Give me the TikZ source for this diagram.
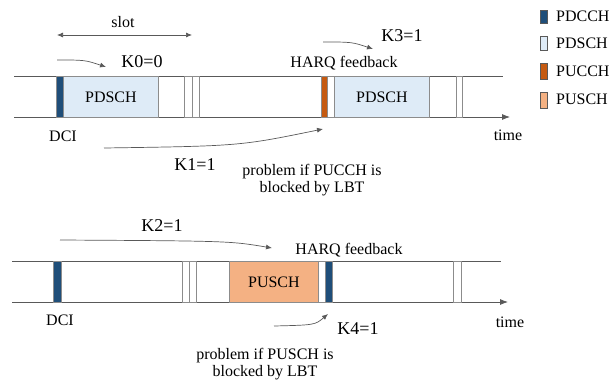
\documentclass[tikz,border=0pt]{standalone}
\usepackage{fontspec}
\setmainfont{Liberation Serif}
\usetikzlibrary{arrows.meta}
\definecolor{pdcch}{HTML}{1F4E79}
\definecolor{pdsch}{HTML}{DEEBF7}
\definecolor{pucch}{HTML}{C55A11}
\definecolor{pusch}{HTML}{F4B183}
\definecolor{ln}{HTML}{595959}
\definecolor{bd}{HTML}{8C8C8C}
\begin{document}
\begin{tikzpicture}[x=1pt,y=-1pt,
  txt/.style={font=\fontsize{16}{17}\selectfont, inner sep=0pt, text=black},
  klab/.style={font=\fontsize{18}{20}\selectfont, inner sep=0pt, text=black},
  tline/.style={draw=ln, line width=0.8pt},
  blk/.style={draw=bd, line width=0.8pt, inner sep=0pt, anchor=north west, minimum height=41pt},
  arr/.style={draw=ln, line width=0.7pt, -{Latex[length=6pt,width=5pt]}},
  leg/.style={draw=ln, line width=0.6pt, inner sep=0pt, minimum width=7pt, anchor=north west},
]
\useasboundingbox (0,0) rectangle (616,386);

% ---------- top panel ----------
\coordinate (aT1) at (14,76);  \coordinate (aT1e) at (503,76);
\coordinate (aB1) at (14,117); \coordinate (aB1e) at (510,117);
\draw[tline] (aT1) -- (aT1e);
\draw[tline, -{Latex[length=8pt,width=6pt]}] (aB1) -- (aB1e);

\node[blk, fill=pdcch, minimum width=7pt] (dci1) at (56,76) {};
\node[blk, fill=pdsch, minimum width=95pt, font=\fontsize{16}{18}\selectfont] (pdsch1) at (63,76) {PDSCH};
\node[blk, fill=white, minimum width=7.5pt] (g1a) at (184,76) {};
\node[blk, fill=white, minimum width=7.5pt] (g1b) at (191.5,76) {};
\node[blk, fill=pucch, minimum width=6pt] (pucch1) at (321,76) {};
\node[blk, fill=white, minimum width=7pt] (g1c) at (327,76) {};
\node[blk, fill=pdsch, minimum width=95pt, font=\fontsize{16}{18}\selectfont] (pdsch2) at (334,76) {PDSCH};
\node[blk, fill=white, minimum width=6pt] (g1d) at (456,76) {};

\node[txt] (slot) at (123,22) {slot};
\coordinate (sL) at (57,35); \coordinate (sR) at (192,35);
\draw[draw=ln, line width=0.7pt, {Latex[length=6pt,width=5pt]}-{Latex[length=6pt,width=5pt]}] (sL) -- (sR);

\node[klab] (k0) at (142,62) {K0=0};
\coordinate (k0s) at (57,60); \coordinate (k0e) at (106,67);
\draw[arr] (k0s) .. controls (85,60) .. (k0e);

\node[txt] (harq1) at (344,63) {HARQ feedback};
\node[klab] (k3) at (402,36) {K3=1};
\coordinate (k3s) at (323,42); \coordinate (k3e) at (373,49);
\draw[arr] (k3s) .. controls (352,42) .. (k3e);

\node[txt] (dcit1) at (63,136) {DCI};
\node[txt] (time1) at (508,135) {time};

\coordinate (k1s) at (104,148); \coordinate (k1e) at (323,129);
\draw[arr] (k1s) .. controls (240,146) .. (k1e);
\node[klab] (k1) at (195,165) {K1=1};
\node[txt, align=center] (prob1) at (312,180) {problem if PUCCH is\\blocked by LBT};

% ---------- bottom panel ----------
\coordinate (aT2) at (12,261);  \coordinate (aT2e) at (501,261);
\coordinate (aB2) at (12,302); \coordinate (aB2e) at (508,302);
\draw[tline] (aT2) -- (aT2e);
\draw[tline, -{Latex[length=8pt,width=6pt]}] (aB2) -- (aB2e);

\node[blk, fill=pdcch, minimum width=8pt] (dci2) at (53,261) {};
\node[blk, fill=white, minimum width=7pt] (g2a) at (182,261) {};
\node[blk, fill=white, minimum width=7pt] (g2b) at (189,261) {};
\node[blk, fill=pusch, minimum width=89pt, font=\fontsize{16}{18}\selectfont] (pusch1) at (229,261) {PUSCH};
\node[blk, fill=white, minimum width=7pt] (g2c) at (318,261) {};
\node[blk, fill=pdcch, minimum width=7pt] (dci3) at (325,261) {};
\node[blk, fill=white, minimum width=8pt] (g2d) at (453,261) {};

\node[klab] (k2) at (162,226) {K2=1};
\coordinate (k2s) at (60,240); \coordinate (k2e) at (272,248);
\draw[arr] (k2s) .. controls (230,241) .. (k2e);
\node[txt] (harq2) at (349,250) {HARQ feedback};

\node[txt] (dcit2) at (60,320) {DCI};
\node[txt] (time2) at (510,322) {time};
\coordinate (k4s) at (274,326); \coordinate (k4e) at (328,314);
\draw[arr] (k4s) .. controls (315,325) .. (k4e);
\node[klab] (k4) at (358,329) {K4=1};
\node[txt, align=center] (prob2) at (265,364) {problem if PUSCH is\\blocked by LBT};

% ---------- legend ----------
\node[leg, fill=pdcch, minimum height=13pt] (l1) at (540,10) {};
\node[leg, fill=pdsch, minimum height=14pt] (l2) at (540,36) {};
\node[leg, fill=pucch, minimum height=16pt] (l3) at (540,63) {};
\node[leg, fill=pusch, minimum height=16pt] (l4) at (540,92) {};
\node[txt, anchor=west] (lt1) at (556,16) {PDCCH};
\node[txt, anchor=west] (lt2) at (556,43) {PDSCH};
\node[txt, anchor=west] (lt3) at (556,71) {PUCCH};
\node[txt, anchor=west] (lt4) at (556,99) {PUSCH};
\end{tikzpicture}
\end{document}
